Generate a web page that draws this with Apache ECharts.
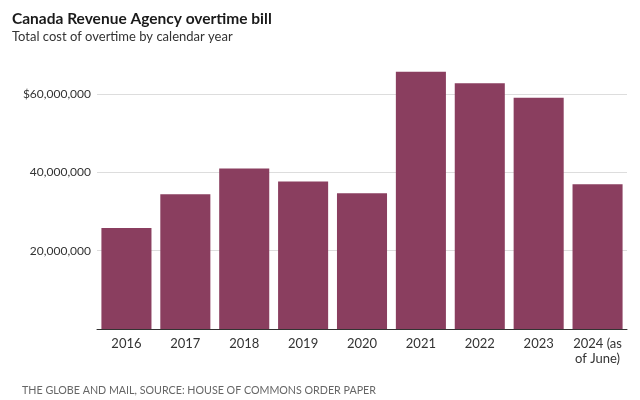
<!DOCTYPE html>
<html>
<head>
<meta charset="utf-8">
<script src="https://cdn.jsdelivr.net/npm/echarts@6/dist/echarts.min.js"></script>
<style>html,body{margin:0;padding:0;background:#fff}#c{width:640px;height:400px}</style>
</head>
<body>
<div id="c"></div>
<script>
var categories = ['2016', '2017', '2018', '2019', '2020', '2021', '2022', '2023', '2024 (as\nof June)'];
var overtimeCost = [25800000, 34400000, 41000000, 37700000, 34700000, 65700000, 62800000, 59100000, 37000000];
var yTicks = [0, 20000000, 40000000, 60000000];

var chart = echarts.init(document.getElementById('c'));
var font = 'Lato';
chart.setOption({
  animation: false,
  title: {
    text: 'Canada Revenue Agency overtime bill',
    subtext: 'Total cost of overtime by calendar year',
    left: 7, top: 6, itemGap: 3,
    textStyle: { fontFamily: font, fontWeight: 'bold', fontSize: 15.5, color: '#1a1a1a' },
    subtextStyle: { fontFamily: font, fontSize: 13, color: '#333' }
  },
  graphic: [{
    type: 'text', left: 22, top: 385,
    style: { text: 'THE GLOBE AND MAIL, SOURCE: HOUSE OF COMMONS ORDER PAPER', font: '10.7px Lato', fill: '#666' }
  }],
  grid: { left: 97, right: 13, top: 55, bottom: 71 },
  xAxis: {
    type: 'category', data: categories,
    axisLine: { lineStyle: { color: '#333', width: 1 } },
    axisTick: { show: false },
    axisLabel: { fontFamily: font, fontSize: 13, color: '#333', margin: 7, lineHeight: 15, interval: 0 }
  },
  yAxis: {
    type: 'value', min: 0, max: 70000000, interval: 20000000,
    axisLine: { show: false }, axisTick: { show: false },
    splitLine: { lineStyle: { color: '#ddd' }, showMaxLine: false },
    axisLabel: {
      fontFamily: font, fontSize: 12, color: '#333', margin: 6, showMaxLabel: false,
      formatter: function (v) {
        if (yTicks.indexOf(v) < 0 || v === 0) return '';
        var s = v.toLocaleString('en-US');
        return v === 60000000 ? '$' + s : s;
      }
    }
  },
  series: [{
    type: 'bar', data: overtimeCost, barCategoryGap: '15%',
    itemStyle: { color: '#8a3e5f' }
  }]
});
</script>
</body>
</html>
